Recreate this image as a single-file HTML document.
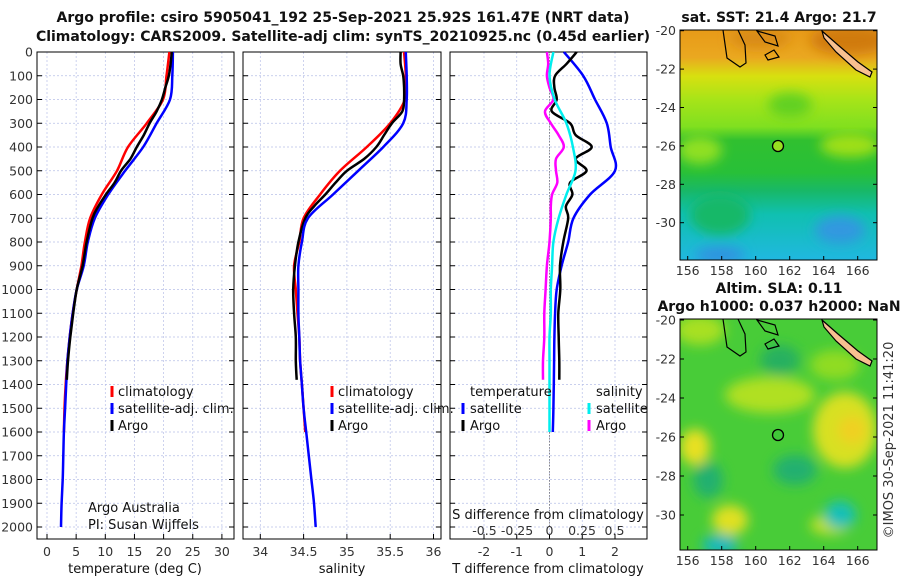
<!DOCTYPE html>
<html><head><meta charset="utf-8"><style>
body{margin:0;background:#fff;}
svg{display:block;font-family:"DejaVu Sans","Liberation Sans",sans-serif;}
.tk{font-size:12.5px;fill:#333;}
.lg{font-size:13px;fill:#111;}
.ttl{font-size:14px;font-weight:bold;fill:#111;}
</style></head><body>
<svg id="chart" width="900" height="580" viewBox="0 0 900 580">
<defs>
<filter id="blur" x="-20%" y="-20%" width="140%" height="140%"><feGaussianBlur stdDeviation="6"/></filter>
<linearGradient id="sstg" x1="0" y1="0" x2="0" y2="1">
<stop offset="0" stop-color="#e89a18"/><stop offset="0.12" stop-color="#eaa820"/>
<stop offset="0.2" stop-color="#d8e010"/><stop offset="0.3" stop-color="#a8e418"/>
<stop offset="0.42" stop-color="#80e020"/><stop offset="0.48" stop-color="#30c030"/>
<stop offset="0.62" stop-color="#28c038"/><stop offset="0.7" stop-color="#18b868"/>
<stop offset="0.8" stop-color="#10c0b0"/><stop offset="1" stop-color="#20b8e0"/>
</linearGradient>
<clipPath id="m1c"><rect x="680" y="30" width="197" height="230"/></clipPath>
<clipPath id="m2c"><rect x="680" y="319" width="197" height="231"/></clipPath>
</defs>
<text class="ttl" x="343" y="22" text-anchor="middle">Argo profile: csiro 5905041_192 25-Sep-2021 25.92S 161.47E (NRT data)</text>
<text class="ttl" x="343" y="41" text-anchor="middle">Climatology: CARS2009. Satellite-adj clim: synTS_20210925.nc (0.45d earlier)</text>
<g id="panels"></g>
<g id="maps">
<text class="ttl" x="779" y="22" text-anchor="middle" font-size="13">sat. SST: 21.4 Argo: 21.7</text>
<g clip-path="url(#m1c)">
<rect x="680" y="30" width="197" height="230" fill="url(#sstg)"/>
<g filter="url(#blur)">
<ellipse cx="850" cy="40" rx="40" ry="15" fill="#d07a10"/>
<ellipse cx="760" cy="38" rx="30" ry="10" fill="#d88a15"/>
<ellipse cx="790" cy="105" rx="22" ry="12" fill="#60d020"/>
<ellipse cx="700" cy="150" rx="22" ry="14" fill="#90e020"/>
<ellipse cx="850" cy="145" rx="30" ry="12" fill="#a0e018"/>
<ellipse cx="720" cy="215" rx="30" ry="20" fill="#18b868"/>
<ellipse cx="840" cy="230" rx="25" ry="14" fill="#3098e0"/>
<ellipse cx="720" cy="255" rx="25" ry="8" fill="#3090e0"/>
</g>
<path d="M822 31 L838 45 L858 62 L872 72 L870 77 L856 70 L836 52 L824 38 Z" fill="#f8c090" stroke="#000" stroke-width="1.2"/>
<path d="M723 30 L727 58 L740 67 L746 63 L745 45 L738 30" fill="none" stroke="#000" stroke-width="1.2"/>
<path d="M757 31 L775 36 L778 46 L765 42 Z" fill="none" stroke="#000" stroke-width="1.2"/>
<path d="M765 55 L774 50 L779 57 L768 60 Z" fill="none" stroke="#000" stroke-width="1.2"/>
<circle cx="778" cy="146" r="5.5" fill="#98e020" stroke="#000" stroke-width="1.3"/>
</g>
<rect x="680" y="30" width="197" height="230" fill="none" stroke="#000" stroke-width="1"/>
<text class="ttl" x="779" y="293" text-anchor="middle" font-size="13">Altim. SLA: 0.11</text>
<text class="ttl" x="779" y="311" text-anchor="middle" font-size="13">Argo h1000: 0.037 h2000: NaN</text>
<g clip-path="url(#m2c)">
<rect x="680" y="319" width="197" height="231" fill="#48cc38"/>
<g filter="url(#blur)">
<ellipse cx="700" cy="330" rx="25" ry="15" fill="#a8e020"/>
<ellipse cx="770" cy="395" rx="45" ry="18" fill="#b0e020"/>
<ellipse cx="845" cy="430" rx="32" ry="38" fill="#d8e020"/>
<ellipse cx="852" cy="430" rx="14" ry="14" fill="#f0d020"/>
<ellipse cx="695" cy="447" rx="15" ry="18" fill="#e8e020"/>
<ellipse cx="730" cy="520" rx="18" ry="15" fill="#e0e020"/>
<ellipse cx="830" cy="525" rx="20" ry="10" fill="#c0e020"/>
<ellipse cx="835" cy="365" rx="25" ry="15" fill="#90dc20"/>
<ellipse cx="795" cy="470" rx="22" ry="15" fill="#20b070"/>
<ellipse cx="708" cy="480" rx="15" ry="18" fill="#20b070"/>
<ellipse cx="840" cy="515" rx="16" ry="14" fill="#18c0b8"/>
<ellipse cx="720" cy="545" rx="18" ry="10" fill="#18b8c0"/>
<ellipse cx="780" cy="360" rx="20" ry="15" fill="#28b060"/>
</g>
<path d="M822 320 L838 334 L858 351 L872 361 L870 366 L856 359 L836 341 L824 327 Z" fill="#f8c090" stroke="#000" stroke-width="1.2"/>
<path d="M723 319 L727 347 L740 356 L746 352 L745 334 L738 319" fill="none" stroke="#000" stroke-width="1.2"/>
<path d="M757 320 L775 325 L778 335 L765 331 Z" fill="none" stroke="#000" stroke-width="1.2"/>
<path d="M765 344 L774 339 L779 346 L768 349 Z" fill="none" stroke="#000" stroke-width="1.2"/>
<circle cx="778" cy="435" r="5.5" fill="#40c838" stroke="#000" stroke-width="1.3"/>
</g>
<rect x="680" y="319" width="197" height="231" fill="none" stroke="#000" stroke-width="1"/>
<text x="893" y="440" font-size="13" fill="#333" text-anchor="middle" transform="rotate(-90 893 440)">©IMOS 30-Sep-2021 11:41:20</text>
</g>
</svg>
<script>
// ---- data ----
const depthT=[0,100,200,300,400,500,600,700,800,900,1000,1100,1200,1300,1400,1500,1600,1700,1800,1900,2000];
const climT=[21,20.5,19.9,17.1,13.9,12.0,9.4,7.4,6.5,5.9,5.1,4.4,3.9,3.5,3.2,3.0,2.9];
const satT=[21.6,21.5,21.1,18.8,16.5,13.4,10.5,8.2,7.0,6.3,5.1,4.4,3.9,3.5,3.3,3.1,2.9,2.8,2.7,2.5,2.4];
const argoDepth=[0,50,100,150,200,250,300,350,400,450,500,550,600,650,700,800,900,1000,1100,1200,1300,1380];
const argoT=[21.4,21.2,20.9,20.3,19.7,18.8,17.6,16.6,15.4,14.3,12.7,11.6,10.1,8.8,7.8,6.8,6.1,5.1,4.5,4.0,3.6,3.4];
const climS=[35.66,35.68,35.67,35.5,35.23,34.92,34.69,34.5,34.45,34.39,34.41,34.43,34.45,34.46,34.48,34.5,34.52];
const satS=[35.68,35.69,35.69,35.65,35.42,35.13,34.84,34.55,34.48,34.44,34.44,34.44,34.45,34.46,34.48,34.5,34.53,34.56,34.59,34.62,34.64];
const argoS=[35.62,35.62,35.65,35.66,35.66,35.64,35.52,35.43,35.34,35.2,35.0,34.87,34.75,34.62,34.52,34.44,34.4,34.38,34.39,34.41,34.41,34.42];
const satTdiff=[0.44,1.03,1.39,1.75,1.87,2.0,1.24,0.73,0.57,0.37,0.22,0.17,0.15,0.14,0.13,0.12,0.1];
const argoTdiff=[0.83,0.52,0.17,0.15,0.22,0.07,0.63,0.8,1.29,0.8,1.13,0.63,0.7,0.5,0.57,0.42,0.32,0.33,0.27,0.28,0.3,0.3];
const satSdiff=[0.03,0.0,0.04,0.13,0.18,0.2,0.13,0.07,0.03,0.02,0.01,0.01,0.0,0.0,0.0,0.0,0.0];
const argoSdiff=[-0.02,-0.01,-0.02,0.0,0.03,-0.035,0.01,0.07,0.11,0.05,0.05,0.06,0.02,0.01,0.01,0.0,-0.02,-0.03,-0.04,-0.04,-0.05,-0.05];
const depthTicks=[0,100,200,300,400,500,600,700,800,900,1000,1100,1200,1300,1400,1500,1600,1700,1800,1900,2000];
const tTicks=[0,5,10,15,20,25,30];
const sTicks=[34,34.5,35,35.5,36];
const tdTicks=[-2,-1,0,1,2];
const sdTicks=[-0.5,-0.25,0,0.25,0.5];
const sdLabels=["-0.5","-0.25","0","0.25","0.5"];
const lonTicks=[156,158,160,162,164,166];
const latTicks=[-20,-22,-24,-26,-28,-30];
// ---- scales ----
const NS='http://www.w3.org/2000/svg';
const Y0=52,Y1=539;
const yD=d=>52+d*0.2375;
const xT=v=>47+v*5.83;
const xS=v=>260.3+(v-34)*86.6;
const xTD=v=>549.5+v*32.75;
const xSD=v=>549.5+v*130;
const lonX=v=>687.7+(v-156)*17;
const panels=document.getElementById('panels');
function el(tag,attrs,parent){const e=document.createElementNS(NS,tag);for(const k in attrs)e.setAttribute(k,attrs[k]);(parent||panels).appendChild(e);return e;}
function line(xs,ys,fx,color,w,name){
  const n=Math.min(xs.length,ys.length);const P=[];
  for(let i=0;i<n;i++)P.push([fx(xs[i]),yD(ys[i])]);
  let d='M'+P[0][0].toFixed(1)+' '+P[0][1].toFixed(1);
  for(let i=0;i<n-1;i++){const p0=P[Math.max(i-1,0)],p1=P[i],p2=P[i+1],p3=P[Math.min(i+2,n-1)];
    const c1=[p1[0]+(p2[0]-p0[0])/6,p1[1]+(p2[1]-p0[1])/6],c2=[p2[0]-(p3[0]-p1[0])/6,p2[1]-(p3[1]-p1[1])/6];
    d+='C'+c1[0].toFixed(1)+' '+c1[1].toFixed(1)+' '+c2[0].toFixed(1)+' '+c2[1].toFixed(1)+' '+p2[0].toFixed(1)+' '+p2[1].toFixed(1);}
  const p=el('path',{d:d,fill:'none',stroke:color,'stroke-width':w,'stroke-linejoin':'round'});
  
  
  return p;
}
function panel(x0,x1,ticks,fx,labels,name){
  const g=el('g',{});
  
  
  depthTicks.forEach(d=>{el('line',{x1:x0,x2:x1,y1:yD(d),y2:yD(d),stroke:'#b8c0e8','stroke-width':0.7,'stroke-dasharray':'2,2'},g);
    el('line',{x1:x0,x2:x0+5,y1:yD(d),y2:yD(d),stroke:'#000'},g);el('line',{x1:x1-5,x2:x1,y1:yD(d),y2:yD(d),stroke:'#000'},g);});
  ticks.forEach((t,i)=>{const x=fx(t);el('line',{x1:x,x2:x,y1:Y0,y2:Y1,stroke:'#b8c0e8','stroke-width':0.7,'stroke-dasharray':'2,2'},g);
    el('line',{x1:x,x2:x,y1:Y1-5,y2:Y1,stroke:'#000'},g);
    const tx=el('text',{x:x,y:556,'text-anchor':'middle',class:'tk'},g);tx.textContent=labels?labels[i]:String(t);
    
    });
  el('rect',{x:x0,y:Y0,width:x1-x0,height:Y1-Y0,fill:'none',stroke:'#000','stroke-width':1},g);
  return g;
}
depthTicks.forEach(d=>{const t=el('text',{x:33,y:yD(d)+4.5,'text-anchor':'end',class:'tk'});t.textContent=d;
  
  });
panel(37,234,tTicks,xT,null,'temperature-panel');
panel(243,441,sTicks,xS,null,'salinity-panel');
panel(450,647,tdTicks,xTD,null,'difference-panel');
const zl=el('line',{x1:xTD(0),x2:xTD(0),y1:yD(10),y2:yD(2000),stroke:'#555','stroke-dasharray':'1,2','stroke-width':1});


line(climT,depthT,xT,'#f00',2.5,'temp-climatology-line');
line(satT,depthT,xT,'#00f',2.5,'temp-satellite-line');
line(argoT,argoDepth,xT,'#000',2.5,'temp-argo-line');
line(climS,depthT,xS,'#f00',2.5,'sal-climatology-line');
line(argoS,argoDepth,xS,'#000',2.5,'sal-argo-line');
line(satS,depthT,xS,'#00f',2.5,'sal-satellite-line');
line(satTdiff,depthT,xTD,'#00f',2.5,'tdiff-satellite-line');
line(argoTdiff,argoDepth,xTD,'#000',2.5,'tdiff-argo-line');
line(argoSdiff,argoDepth,xSD,'#f0f',2.5,'sdiff-argo-line');
line(satSdiff,depthT,xSD,'#0ee',2.5,'sdiff-satellite-line');
sdTicks.forEach((t,i)=>{const tx=el('text',{x:xSD(t),y:535,'text-anchor':'middle',class:'tk'});tx.textContent=sdLabels[i];
  
  });
function txt(x,y,s,name,cls,anchor){const t=el('text',{x:x,y:y,class:cls||'lg','text-anchor':anchor||'start'});t.textContent=s;
  
  return t;}
txt(548,519,'S difference from climatology','sdiff-axis-title','lg','middle');
txt(135,573,'temperature (deg C)','x-axis-title-temperature','lg','middle');
txt(342,573,'salinity','x-axis-title-salinity','lg','middle');
txt(548,573,'T difference from climatology','x-axis-title-tdiff','lg','middle');
const a1=txt(88,512,'Argo Australia','credit-argo-australia');a1.setAttribute('font-size','11');
const a2=txt(88,529,'PI: Susan Wijffels','credit-pi');a2.setAttribute('font-size','11');
function leg(mx,tx,y,color,label,name){const m=el('rect',{x:mx-1.5,y:y-10,width:3,height:11,fill:color});
  
  
  txt(tx,y,label,name);}
[[112,118],[332,338]].forEach(p=>{
  leg(p[0],p[1],396,'#f00','climatology','legend-climatology');
  leg(p[0],p[1],413,'#00f','satellite-adj. clim.','legend-satellite');
  leg(p[0],p[1],430,'#000','Argo','legend-argo');});
txt(470,396,'temperature','legend-temperature-header');
txt(596,396,'salinity','legend-salinity-header');
leg(463,470,413,'#00f','satellite','legend-tdiff-satellite');
leg(463,470,430,'#000','Argo','legend-tdiff-argo');
leg(589,596,413,'#0ee','satellite','legend-sdiff-satellite');
leg(589,596,430,'#f0f','Argo','legend-sdiff-argo');
const mg=document.getElementById('maps');
[[30,260,30.7,19.2,275],[319,550,320,19.5,565]].forEach(m=>{
  lonTicks.forEach(l=>{const x=lonX(l);el('line',{x1:x,x2:x,y1:m[1]-4,y2:m[1],stroke:'#000'},mg);
    const t=el('text',{x:x,y:m[4],'text-anchor':'middle',class:'tk'},mg);t.textContent=l;
    
    });
  latTicks.forEach(l=>{const y=m[2]+(-20-l)*m[3];el('line',{x1:680,x2:684,y1:y,y2:y,stroke:'#000'},mg);el('line',{x1:873,x2:877,y1:y,y2:y,stroke:'#000'},mg);
    const t=el('text',{x:676,y:y+4.5,'text-anchor':'end',class:'tk'},mg);t.textContent=l;
    
    });
});
</script>
</body></html>
